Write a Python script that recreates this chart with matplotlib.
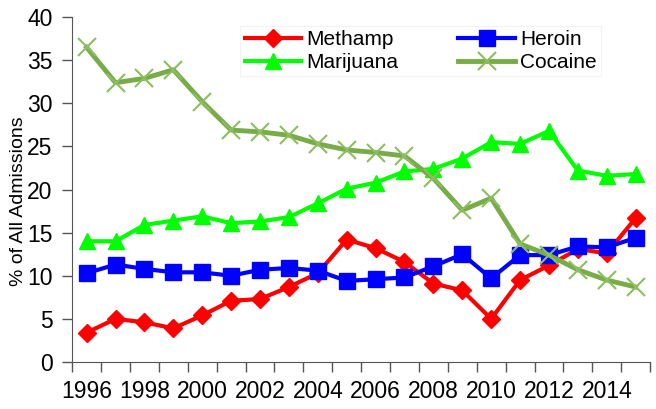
import numpy as np
import matplotlib.pyplot as plt

# Dữ liệu
years = list(range(1996, 2016))
methamp = [3.4, 5.0, 4.6, 3.9, 5.4, 7.1, 7.3, 8.7, 10.3, 14.2, 13.2, 11.6, 9.1, 8.3, 5.0,
           9.5, 11.2, 13.1, 12.6, 16.7]
heroin = [10.3, 11.3, 10.8, 10.4, 10.4, 10.0, 10.7, 10.9, 10.6, 9.4, 9.6, 9.8, 11.1, 12.5, 9.7,
          12.4, 12.4, 13.4, 13.3, 14.4]
marijuana = [14.0, 14.0, 15.9, 16.4, 16.9, 16.1, 16.3, 16.8, 18.4, 20.1, 20.8, 22.1, 22.4, 23.6, 25.5,
             25.3, 26.8, 22.2, 21.6, 21.8]
cocaine = [36.5, 32.4, 32.9, 33.9, 30.2, 26.9, 26.7, 26.3, 25.3, 24.6, 24.3, 23.9, 21.3, 17.6, 19.0,
           13.7, 12.4, 10.7, 9.5, 8.7]
tick_years = list(range(1996, 2016, 2))

plt.rcParams['font.family'] = ['Liberation Sans', 'DejaVu Sans']

fig = plt.figure(figsize=(6.56, 4.09), dpi=100)
ax = fig.add_axes([0.110, 0.115, 0.881, 0.843])

x = np.arange(len(years))
l_meth, = ax.plot(x, methamp, color='#FF0000', lw=3, marker='D', ms=9, label='Methamp')
l_her, = ax.plot(x, heroin, color='#0000FF', lw=3, marker='s', ms=11, label='Heroin')
l_mar, = ax.plot(x, marijuana, color='#00FF00', lw=3, marker='^', ms=12, label='Marijuana')
l_coc, = ax.plot(x, cocaine, color='#77AC47', lw=3.5, marker='x', ms=13, mew=1.5,
                 mec='#8DBD63', label='Cocaine')

ax.set_xlim(-0.5, len(years) - 0.5)
ax.set_ylim(0, 40)
ax.set_yticks(range(0, 41, 5))
ax.set_xticks(np.arange(len(years) + 1) - 0.5)
ax.set_xticklabels([])
ax.set_xticks([years.index(y) for y in tick_years], minor=True)
ax.set_xticklabels([str(y) for y in tick_years], minor=True)
ax.tick_params(axis='x', which='minor', length=0, labelsize=16.5, pad=13)
ax.tick_params(axis='x', which='major', length=7, width=1, direction='out', color='#555555')
ax.tick_params(axis='y', length=7, width=1, labelsize=16.5, color='#555555', pad=7)

for side in ['top', 'right']:
    ax.spines[side].set_visible(False)
for side in ['left', 'bottom']:
    ax.spines[side].set_color('#555555')

ax.set_ylabel('% of All Admissions', fontsize=14)
ax.yaxis.set_label_coords(-0.078, 0.467)

# legend: cột 1 Methamp/Marijuana, cột 2 Heroin/Cocaine
leg = ax.legend([l_meth, l_mar, l_her, l_coc], ['Methamp', 'Marijuana', 'Heroin', 'Cocaine'],
                ncol=2, loc='upper left', bbox_to_anchor=(0.273, 1.005),
                fontsize=15, frameon=True, handlelength=2.7, columnspacing=2.9,
                labelspacing=0.2, handletextpad=0.25, borderpad=0.2, fancybox=False)
leg.get_frame().set_edgecolor('#f0f0f0')
leg.get_frame().set_linewidth(0.8)

fig.savefig('out.png', dpi=100)
